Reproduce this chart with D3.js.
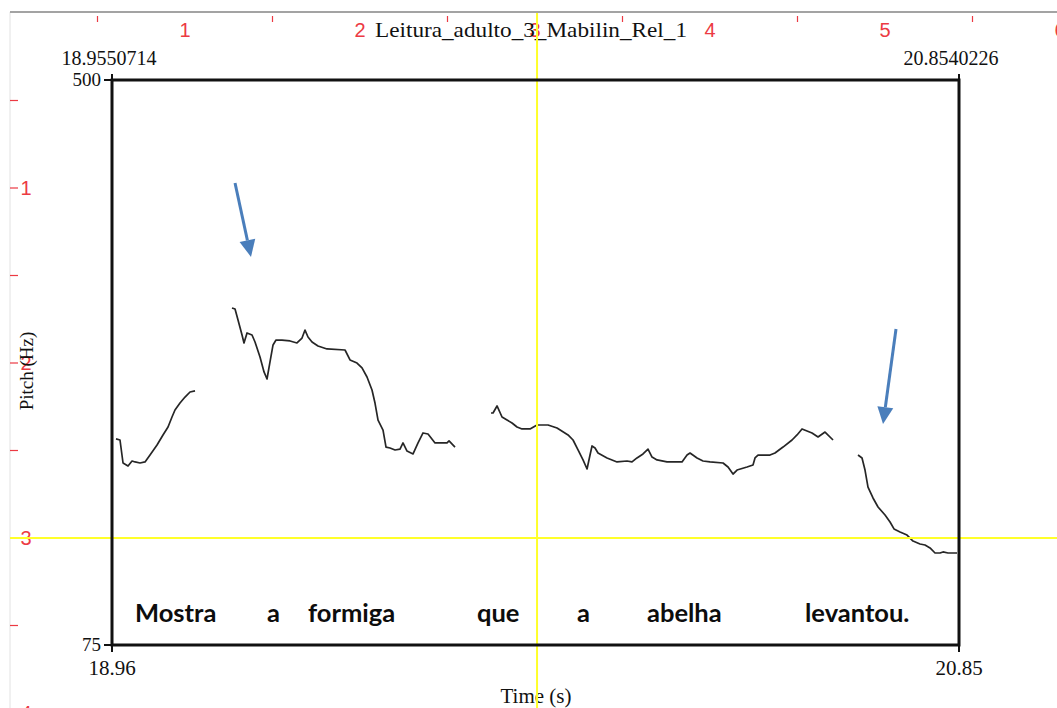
<!DOCTYPE html>
<html>
<head>
<meta charset="utf-8">
<script src="https://cdn.jsdelivr.net/npm/d3@7"></script>
<style>
  html, body { margin: 0; padding: 0; background: #fff; }
  svg { display: block; }
</style>
</head>
<body>
<svg id="chart" width="1057" height="708"></svg>
<script>
// Pitch track (time in s, F0 in Hz), four voiced stretches
const seg1Time = [18.9641, 18.9730, 18.9798, 18.9910, 19.0000, 19.0067, 19.0179, 19.0291, 19.0403, 19.0560, 19.0694, 19.0807, 19.0896, 19.0963, 19.1075, 19.1188, 19.1300, 19.1412];
const seg1Hz   = [230.0, 229.2, 211.9, 209.6, 213.4, 212.7, 211.9, 212.7, 217.9, 225.4, 233.0, 239.0, 246.5, 251.8, 257.0, 261.5, 265.3, 266.1];

const seg2Time = [19.2241, 19.2309, 19.2376, 19.2466, 19.2510, 19.2578, 19.2690, 19.2757, 19.2869, 19.2959, 19.3026, 19.3093, 19.3161, 19.3228, 19.3362, 19.3542, 19.3698, 19.3811, 19.3878, 19.3945, 19.4035, 19.4169, 19.4371, 19.4775, 19.4887, 19.5044, 19.5156, 19.5268, 19.5380, 19.5447, 19.5515, 19.5627, 19.5694, 19.5784, 19.5896, 19.6008, 19.6075, 19.6165, 19.6300, 19.6412, 19.6524, 19.6636, 19.6793, 19.7062, 19.7107, 19.7241];
const seg2Hz   = [328.5, 327.7, 319.5, 308.2, 302.2, 309.7, 308.2, 302.9, 291.6, 280.4, 275.1, 287.9, 300.7, 304.4, 304.4, 303.7, 302.2, 305.9, 311.9, 306.7, 302.9, 299.9, 297.7, 296.9, 289.4, 287.1, 283.4, 276.6, 266.8, 257.0, 244.2, 236.7, 223.9, 223.2, 221.7, 222.4, 227.0, 220.9, 218.7, 227.0, 234.5, 233.7, 227.0, 227.0, 228.5, 223.9];

const seg3Time = [19.8048, 19.8093, 19.8183, 19.8295, 19.8407, 19.8519, 19.8631, 19.8743, 19.8923, 19.9080, 19.9326, 19.9528, 19.9775, 19.9887, 19.9999, 20.0111, 20.0201, 20.0268, 20.0313, 20.0380, 20.0447, 20.0649, 20.0873, 20.1097, 20.1209, 20.1321, 20.1456, 20.1568, 20.1658, 20.1770, 20.1994, 20.2330, 20.2443, 20.2510, 20.2667, 20.2801, 20.2958, 20.3250, 20.3362, 20.3474, 20.3564, 20.3788, 20.3922, 20.3967, 20.4034, 20.4303, 20.4415, 20.4595, 20.4797, 20.4909, 20.5021, 20.5133, 20.5245, 20.5380, 20.5537, 20.5716];
const seg3Hz   = [249.5, 249.5, 254.8, 246.5, 244.2, 242.0, 239.0, 237.5, 237.5, 240.5, 240.5, 238.2, 233.0, 229.2, 221.7, 214.2, 207.4, 217.9, 224.7, 223.2, 219.4, 215.7, 212.7, 213.4, 212.7, 215.7, 218.7, 222.4, 216.4, 214.2, 212.7, 212.7, 217.9, 219.4, 215.7, 213.4, 212.7, 211.9, 208.9, 203.6, 206.6, 208.9, 210.4, 215.7, 217.9, 217.9, 219.4, 223.9, 229.2, 233.0, 237.5, 236.0, 234.5, 231.5, 235.2, 229.2];

const seg4Time = [20.6276, 20.6366, 20.6433, 20.6500, 20.6612, 20.6725, 20.6882, 20.6994, 20.7083, 20.7218, 20.7375, 20.7509, 20.7666, 20.7778, 20.7891, 20.8003, 20.8115, 20.8182, 20.8294, 20.8496];
const seg4Hz   = [217.9, 215.7, 206.6, 193.8, 185.6, 178.8, 172.8, 167.5, 162.3, 160.0, 157.7, 153.2, 151.0, 150.2, 148.0, 144.2, 144.2, 145.0, 144.2, 144.2];

// Window and axis labels
const timeWindow = [18.9550714, 20.8540226];
const pitchRange = [75, 500];
const windowLabels = ["18.9550714", "20.8540226"];
const timeTickLabels = ["18.96", "20.85"];
const pitchTickLabels = ["500", "75"];
const title = "Leitura_adulto_3_Mabilin_Rel_1";

// Sentence words and their onset times
const words = ["Mostra", "a", "formiga", "que", "a", "abelha", "levantou."];
const wordOnsets = [19.0067, 19.3026, 19.3945, 19.7734, 19.9976, 20.1545, 20.5088];

// Guide crosshair (time, Hz)
const guideTime = 19.908;
const guideHz = 155.5;

// Callout arrows: [startTime, startHz, endTime, endHz]
const arrows = [
  [19.2309, 422.5, 19.2667, 366.9],
  [20.7128, 312.7, 20.6837, 241.2]
];

// Document ruler numbering
const rulerTopLabels = ["1", "2", "3", "4", "5", "6"];
const rulerLeftLabels = ["1", "2", "3", "4"];

const svg = d3.select("#chart");
const W = 1057, H = 708;
const plot = { left: 112, top: 80, right: 959, bottom: 645 };

const x = d3.scaleLinear().domain(timeWindow).range([plot.left, plot.right]);
const y = d3.scaleLinear().domain(pitchRange).range([plot.bottom, plot.top]);

const rulerX = d3.scaleLinear().domain([0, 6]).range([10, 1060]);
const rulerY = d3.scaleLinear().domain([0, 4]).range([13, 713]);

const serif = "'Liberation Serif', 'Times New Roman', serif";
const sans = "'Liberation Sans', Arial, sans-serif";
const red = "#ec3a43";

svg.append("rect").attr("width", W).attr("height", H).attr("fill", "#fff");

// Page edges
svg.append("line").attr("x1", 10).attr("x2", 10).attr("y1", 12).attr("y2", H)
  .attr("stroke", "#e2e2e2").attr("stroke-width", 1);
svg.append("line").attr("x1", 10).attr("x2", W).attr("y1", 12).attr("y2", 12)
  .attr("stroke", "#a3a3a3").attr("stroke-width", 2);

// Top ruler
const topRuler = svg.append("g");
topRuler.selectAll("line").data(d3.range(0.5, 6.5, 1)).join("line")
  .attr("x1", d => rulerX(d)).attr("x2", d => rulerX(d))
  .attr("y1", 16).attr("y2", 22)
  .attr("stroke", red).attr("stroke-width", 1.2);
topRuler.selectAll("text").data(rulerTopLabels).join("text")
  .attr("x", (d, i) => rulerX(i + 1)).attr("y", 37)
  .attr("text-anchor", "middle")
  .attr("font-family", sans).attr("font-size", 20)
  .attr("fill", red).text(d => d);

// Left ruler
const leftRuler = svg.append("g");
leftRuler.selectAll("line").data(d3.range(0.5, 4.5, 0.5)).join("line")
  .attr("x1", 10).attr("x2", 18)
  .attr("y1", d => rulerY(d)).attr("y2", d => rulerY(d))
  .attr("stroke", red).attr("stroke-width", 1.2);
leftRuler.selectAll("text").data(rulerLeftLabels).join("text")
  .attr("x", 26).attr("y", (d, i) => rulerY(i + 1) + 7)
  .attr("text-anchor", "middle")
  .attr("font-family", sans).attr("font-size", 20)
  .attr("fill", red).text(d => d);

// Title and window times
svg.append("text").attr("x", 531).attr("y", 37).attr("text-anchor", "middle")
  .attr("font-family", serif).attr("font-size", 21)
  .attr("textLength", 312).attr("lengthAdjust", "spacingAndGlyphs")
  .attr("fill", "#111").text(title);
svg.append("text").attr("x", x(timeWindow[0]) - 3).attr("y", 65).attr("text-anchor", "middle")
  .attr("font-family", serif).attr("font-size", 20).attr("fill", "#111").text(windowLabels[0]);
svg.append("text").attr("x", x(timeWindow[1]) - 8).attr("y", 65).attr("text-anchor", "middle")
  .attr("font-family", serif).attr("font-size", 20).attr("fill", "#111").text(windowLabels[1]);

// Pitch axis end labels
pitchRange.slice().reverse().forEach((v, i) => {
  svg.append("text").attr("x", plot.left - 11).attr("y", y(v) + 6)
    .attr("text-anchor", "end").attr("font-family", serif).attr("font-size", 19)
    .attr("fill", "#111").text(pitchTickLabels[i]);
  svg.append("line").attr("x1", plot.left - 8).attr("x2", plot.left)
    .attr("y1", y(v)).attr("y2", y(v)).attr("stroke", "#111").attr("stroke-width", 2);
});

// Time axis end labels
timeWindow.forEach((v, i) => {
  svg.append("text").attr("x", x(v)).attr("y", 675)
    .attr("text-anchor", "middle").attr("font-family", serif).attr("font-size", 21)
    .attr("fill", "#111").text(timeTickLabels[i]);
  svg.append("line").attr("x1", x(v)).attr("x2", x(v))
    .attr("y1", plot.bottom).attr("y2", plot.bottom + 7).attr("stroke", "#111").attr("stroke-width", 2);
  svg.append("line").attr("x1", x(v)).attr("x2", x(v))
    .attr("y1", plot.top - 6).attr("y2", plot.top).attr("stroke", "#111").attr("stroke-width", 2);
});

// Axis titles
svg.append("text").attr("x", 536).attr("y", 703).attr("text-anchor", "middle")
  .attr("font-family", serif).attr("font-size", 21).attr("fill", "#111").text("Time (s)");
svg.append("text").attr("transform", "translate(33,371) rotate(-90)")
  .attr("text-anchor", "middle").attr("font-family", serif).attr("font-size", 19)
  .attr("fill", "#111").text("Pitch (Hz)");

// Pitch contour
const line = d3.line().x(d => x(d[0])).y(d => y(d[1]));
const segments = [
  [seg1Time, seg1Hz], [seg2Time, seg2Hz], [seg3Time, seg3Hz], [seg4Time, seg4Hz]
].map(([t, f]) => t.map((v, i) => [v, f[i]]));
svg.append("g").selectAll("path").data(segments).join("path")
  .attr("d", line).attr("fill", "none")
  .attr("stroke", "#262626").attr("stroke-width", 1.7)
  .attr("stroke-linejoin", "round");

// Guide crosshair
svg.append("line").attr("x1", x(guideTime)).attr("x2", x(guideTime))
  .attr("y1", 13).attr("y2", H).attr("stroke", "#ffff2a").attr("stroke-width", 2);
svg.append("line").attr("x1", 10).attr("x2", W)
  .attr("y1", y(guideHz)).attr("y2", y(guideHz)).attr("stroke", "#ffff2a").attr("stroke-width", 2);

// Frame
svg.append("rect").attr("x", plot.left).attr("y", plot.top)
  .attr("width", plot.right - plot.left).attr("height", plot.bottom - plot.top)
  .attr("fill", "none").attr("stroke", "#111").attr("stroke-width", 3);

// Sentence words
svg.append("g").selectAll("text").data(words).join("text")
  .attr("x", (d, i) => x(wordOnsets[i])).attr("y", 622)
  .attr("font-family", "Lato, 'Open Sans', sans-serif").attr("font-weight", 700)
  .attr("font-size", 25.5).attr("fill", "#0d0d0d").text(d => d);

// Arrows
const blue = "#4a7ebb";
arrows.forEach(([t0, f0, t1, f1]) => {
  const x0 = x(t0), y0 = y(f0), x1 = x(t1), y1 = y(f1);
  const ang = Math.atan2(y1 - y0, x1 - x0);
  const headLen = 17, headW = 8;
  const bx = x1 - headLen * Math.cos(ang), by = y1 - headLen * Math.sin(ang);
  svg.append("line").attr("x1", x0).attr("y1", y0).attr("x2", bx).attr("y2", by)
    .attr("stroke", blue).attr("stroke-width", 3);
  const px = -Math.sin(ang) * headW, py = Math.cos(ang) * headW;
  svg.append("path")
    .attr("d", `M${x1},${y1}L${bx + px},${by + py}L${bx - px},${by - py}Z`)
    .attr("fill", blue);
});
</script>
</body>
</html>
